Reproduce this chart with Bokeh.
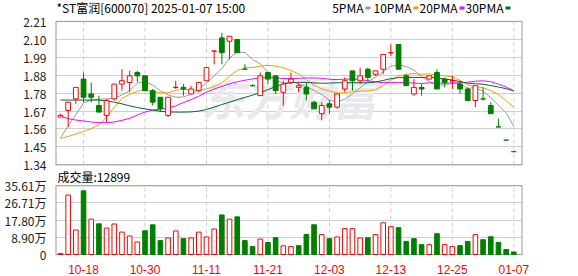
import numpy as np
from bokeh.plotting import figure
from bokeh.models import (Range1d, FixedTicker, CustomJSTickFormatter, ColumnDataSource)
from bokeh.core.properties import value
from bokeh.embed import file_html
from bokeh.resources import INLINE

# ---------------- data ----------------
title_text = "*ST富润[600070] 2025-01-07 15:00"
volume_title = "成交量:12899"
watermark = "东方财富"
ma_names = ["5PMA", "10PMA", "20PMA", "30PMA"]

dates = ["10-15", "10-16", "10-17", "10-18", "10-21", "10-22", "10-23", "10-24", "10-25", "10-28",
         "10-29", "10-30", "10-31", "11-01", "11-04", "11-05", "11-06", "11-07", "11-08", "11-11",
         "11-12", "11-13", "11-14", "11-15", "11-18", "11-19", "11-20", "11-21", "11-22", "11-25",
         "11-26", "11-27", "11-28", "11-29", "12-02", "12-03", "12-04", "12-05", "12-06", "12-09",
         "12-10", "12-11", "12-12", "12-13", "12-16", "12-17", "12-18", "12-19", "12-20", "12-23",
         "12-24", "12-25", "12-26", "12-27", "12-30", "12-31", "01-02", "01-03", "01-06", "01-07"]
date_tick_labels = ["10-18", "10-30", "11-11", "11-21", "12-03", "12-13", "12-25", "01-07"]

open_ = [1.63, 1.67, 1.74, 1.86, 1.77, 1.70, 1.64, 1.74, 1.83, 1.84,
         1.90, 1.88, 1.79, 1.75, 1.64, 1.81, 1.81, 1.77, 1.79, 1.85,
         2.03, 2.11, 2.09, 2.10, 1.92, 1.82, 1.76, 1.90, 1.88, 1.78,
         1.84, 1.81, 1.81, 1.72, 1.65, 1.71, 1.69, 1.80, 1.91, 1.85,
         1.92, 1.89, 1.92, 2.02, 2.07, 1.88, 1.77, 1.81, 1.86, 1.90,
         1.86, 1.85, 1.83, 1.80, 1.73, 1.74, 1.70, 1.57, 1.49, 1.42]
high = [1.65, 1.72, 1.81, 1.90, 1.84, 1.76, 1.74, 1.83, 1.92, 1.91,
        1.91, 1.88, 1.80, 1.75, 1.75, 1.85, 1.83, 1.82, 1.84, 1.93,
        2.03, 2.14, 2.12, 2.10, 1.95, 1.83, 1.90, 1.90, 1.88, 1.85,
        1.90, 1.84, 1.84, 1.73, 1.72, 1.73, 1.77, 1.87, 1.91, 1.93,
        1.93, 1.91, 2.01, 2.07, 2.07, 1.89, 1.86, 1.83, 1.88, 1.92,
        1.87, 1.88, 1.85, 1.81, 1.82, 1.81, 1.72, 1.62, 1.49, 1.42]
low = [1.63, 1.57, 1.71, 1.72, 1.72, 1.66, 1.60, 1.73, 1.79, 1.78,
       1.84, 1.79, 1.70, 1.66, 1.63, 1.80, 1.76, 1.77, 1.78, 1.85,
       1.95, 1.95, 1.98, 2.02, 1.92, 1.82, 1.76, 1.83, 1.77, 1.70,
       1.83, 1.78, 1.73, 1.68, 1.61, 1.65, 1.68, 1.78, 1.79, 1.83,
       1.85, 1.88, 1.89, 2.00, 1.92, 1.82, 1.76, 1.76, 1.86, 1.80,
       1.81, 1.80, 1.77, 1.73, 1.69, 1.73, 1.65, 1.57, 1.49, 1.42]
close = [1.64, 1.72, 1.81, 1.75, 1.75, 1.66, 1.73, 1.83, 1.85, 1.88,
         1.88, 1.79, 1.72, 1.68, 1.75, 1.81, 1.80, 1.80, 1.84, 1.93,
         2.03, 2.02, 2.12, 2.02, 1.92, 1.82, 1.88, 1.86, 1.79, 1.83,
         1.86, 1.82, 1.77, 1.68, 1.70, 1.69, 1.77, 1.85, 1.85, 1.88,
         1.87, 1.91, 2.01, 2.02, 1.92, 1.82, 1.81, 1.80, 1.88, 1.80,
         1.84, 1.85, 1.80, 1.73, 1.82, 1.74, 1.65, 1.57, 1.49, 1.42]

ma5 = [1.505, 1.575, 1.645, 1.715, 1.734, 1.738, 1.740, 1.744, 1.764, 1.790,
       1.834, 1.846, 1.824, 1.790, 1.764, 1.750, 1.752, 1.768, 1.800, 1.836,
       1.880, 1.924, 1.988, 2.024, 2.022, 1.980, 1.952, 1.900, 1.854, 1.836,
       1.844, 1.832, 1.814, 1.792, 1.766, 1.732, 1.722, 1.738, 1.772, 1.808,
       1.844, 1.872, 1.904, 1.938, 1.946, 1.936, 1.916, 1.874, 1.846, 1.822,
       1.826, 1.834, 1.834, 1.804, 1.808, 1.788, 1.748, 1.702, 1.654, 1.574]
ma10 = [1.500, 1.512, 1.527, 1.543, 1.560, 1.582, 1.630, 1.690, 1.742, 1.768,
        1.786, 1.793, 1.784, 1.777, 1.777, 1.792, 1.799, 1.796, 1.795, 1.800,
        1.815, 1.838, 1.878, 1.912, 1.929, 1.930, 1.938, 1.944, 1.939, 1.929,
        1.912, 1.892, 1.857, 1.823, 1.801, 1.788, 1.777, 1.776, 1.782, 1.787,
        1.788, 1.796, 1.820, 1.854, 1.877, 1.890, 1.894, 1.889, 1.892, 1.884,
        1.880, 1.874, 1.853, 1.824, 1.814, 1.808, 1.790, 1.767, 1.728, 1.690]
ma20 = [1.636, 1.620, 1.612, 1.606, 1.600, 1.596, 1.596, 1.600, 1.610, 1.622,
        1.642, 1.660, 1.672, 1.678, 1.684, 1.698, 1.718, 1.736, 1.756, 1.781,
        1.800, 1.816, 1.831, 1.844, 1.853, 1.861, 1.868, 1.870, 1.867, 1.864,
        1.863, 1.865, 1.867, 1.867, 1.865, 1.859, 1.857, 1.860, 1.860, 1.858,
        1.850, 1.844, 1.839, 1.839, 1.839, 1.839, 1.836, 1.833, 1.837, 1.836,
        1.835, 1.837, 1.838, 1.841, 1.847, 1.850, 1.844, 1.830, 1.812, 1.789]
ma30 = [1.733, 1.733, 1.733, 1.733, 1.733, 1.733, 1.727, 1.720, 1.710, 1.698,
        1.688, 1.679, 1.672, 1.665, 1.661, 1.660, 1.660, 1.661, 1.666, 1.676,
        1.690, 1.706, 1.720, 1.735, 1.749, 1.763, 1.778, 1.796, 1.815, 1.830,
        1.838, 1.841, 1.840, 1.837, 1.835, 1.836, 1.838, 1.838, 1.838, 1.838,
        1.838, 1.842, 1.852, 1.863, 1.869, 1.869, 1.870, 1.870, 1.872, 1.867,
        1.861, 1.855, 1.845, 1.835, 1.832, 1.829, 1.821, 1.812, 1.802, 1.788]

volume = [0.5, 30.8, 12.7, 32.97, 18.3, 15.9, 13.7, 15.8, 11.6, 9.6,
          6.5, 12.3, 15.4, 7.2, 8.6, 12.2, 8.2, 8.6, 11.6, 9.1,
          13.2, 20.5, 18.3, 19.5, 7.2, 4.1, 8.0, 6.2, 8.7, 4.5,
          4.1, 4.6, 10.4, 15.4, 10.3, 8.2, 9.1, 13.4, 13.4, 8.6,
          8.7, 10.3, 16.4, 14.4, 13.9, 6.8, 8.2, 5.1, 5.1, 10.8,
          5.1, 4.1, 4.6, 6.8, 10.3, 7.7, 9.2, 6.3, 2.6, 1.29]  # 万手

price_tick_labels = ["1.34", "1.45", "1.56", "1.67", "1.78", "1.88", "1.99", "2.10", "2.21"]
vol_tick_labels = ["0", "8.90万", "17.80万", "26.71万", "35.61万"]

# ---------------- styles / layout (canvas pixels) ----------------
W, H = 578, 276
RED = "#ff0000"
GREEN = "#008000"
MA_COLORS = ["#9a9a9a", "#f0a000", "#ff00ff", "#006a35"]
GRID = "#cfcfcf"
BORDER = "#999999"
LABEL_FONT = "Liberation Sans"
CJK_FONT = "Noto Sans CJK SC"
FRAME_L, FRAME_R = 55, 522
FRAME_BOTTOM = 256                    # the single frame spans y 0..256
P_TOP, P_BOTTOM = 21, 165             # price box
V_TOP, V_BOTTOM = 186, 255            # volume box
HEADER_Y = 7.5
VOL_TITLE_Y = 177
LEG_BOX_X = [365, 413, 459, 505]

n = len(dates)
x = np.arange(n)
prev_close = [open_[0]] + close[:-1]
up = [(c > o) or (c == o and c >= pc) for o, c, pc in zip(open_, close, prev_close)]
vol_up = [c >= pc for c, pc in zip(close, prev_close)]

src = ColumnDataSource(dict(
    x=x, o=open_, h=high, l=low, c=close,
    top=[max(a, b) for a, b in zip(open_, close)],
    bot=[min(a, b) for a, b in zip(open_, close)],
    col=[RED if u else GREEN for u in up],
    fill=["#ffffff" if u else GREEN for u in up],
    vol=volume,
    vcol=[RED if u else GREEN for u in vol_up],
    vfill=["#ffffff" if u else GREEN for u in vol_up],
))

x0, x1 = -0.65, n + 0.13
tick_pos = [dates.index(d) for d in date_tick_labels]

p_lo, p_hi = float(price_tick_labels[0]), float(price_tick_labels[-1])
p_per_px = (p_hi - p_lo) / (P_BOTTOM - P_TOP)
v_hi = float(vol_tick_labels[-1].rstrip("万"))
v_per_px = v_hi / (V_BOTTOM - V_TOP)


def py(px):            # canvas y -> price units
    return p_hi - (px - P_TOP) * p_per_px


def vy(px):            # canvas y -> volume units
    return (V_BOTTOM - px) * v_per_px


def xx(px):            # canvas x -> slot units
    return x0 + (px - FRAME_L) * (x1 - x0) / (FRAME_R - FRAME_L)


p = figure(width=W, height=H, x_range=Range1d(x0, x1), y_range=Range1d(py(FRAME_BOTTOM), py(0)),
           output_backend="svg", toolbar_location=None,
           min_border_left=FRAME_L, min_border_right=W - FRAME_R,
           min_border_top=0, min_border_bottom=H - FRAME_BOTTOM)
p.extra_y_ranges = {"vol": Range1d(vy(FRAME_BOTTOM), vy(0))}
p.outline_line_color = None
p.background_fill_color = "#ffffff"
p.border_fill_color = "#ffffff"
p.xgrid.grid_line_color = None

# one left axis carrying both the price and the volume labels
price_ticks = [float(t) for t in np.linspace(p_lo, p_hi, len(price_tick_labels))]
vol_ticks_as_price = [float(py(V_BOTTOM - v / v_per_px))
                      for v in np.linspace(0, v_hi, len(vol_tick_labels))]
all_ticks = price_ticks + vol_ticks_as_price
all_labels = price_tick_labels + vol_tick_labels
ya = p.yaxis[0]
ya.ticker = FixedTicker(ticks=all_ticks)
ya.formatter = CustomJSTickFormatter(
    args=dict(tvals=all_ticks, tlabels=all_labels),
    code="""let best = -1, d = 1e9;
for (let i = 0; i < tvals.length; i++) { const e = Math.abs(tvals[i] - tick); if (e < d) { d = e; best = i; } }
return best >= 0 ? tlabels[best] : '';""")
ya.axis_line_color = None
ya.major_tick_line_color = None
ya.minor_tick_line_color = None
ya.major_label_standoff = 3
ya.major_label_text_font = CJK_FONT
ya.major_label_text_font_size = "12px"
ya.major_label_text_color = "#222222"
p.ygrid.grid_line_color = GRID

xa = p.xaxis[0]
xa.ticker = FixedTicker(ticks=tick_pos)
xa.formatter = CustomJSTickFormatter(args=dict(dlabels=dates),
                                     code="return dlabels[Math.round(tick)] || '';")
xa.axis_line_color = None
xa.major_tick_line_color = None
xa.minor_tick_line_color = None
xa.major_label_standoff = 3
xa.major_label_text_font = LABEL_FONT
xa.major_label_text_font_size = "12px"
xa.major_label_text_color = RED

# dashed date lines inside both boxes
k = len(tick_pos)
p.segment(x0=tick_pos, y0=[p_lo] * k, x1=tick_pos, y1=[p_hi] * k,
          line_color=GRID, line_dash="4 3", line_width=1)
p.segment(x0=tick_pos, y0=[0] * k, x1=tick_pos, y1=[v_hi] * k, y_range_name="vol",
          line_color=GRID, line_dash="4 3", line_width=1)

# watermark
p.text(x=[(x0 + x1) / 2], y=[py(97)], text=[watermark],
       text_font=value(CJK_FONT), text_font_size="44px", text_font_style="bold italic",
       text_color="#e8e8ee", text_align="center", text_baseline="middle")

# box borders (left/right edges lie on the frame edge and are half clipped, so width 2)
for lo_, hi_, rng in [(p_lo, p_hi, "default"), (0, v_hi, "vol")]:
    p.segment(x0=[x0, x1], y0=[lo_, lo_], x1=[x0, x1], y1=[hi_, hi_], y_range_name=rng,
              line_color=BORDER, line_width=2)
    p.segment(x0=[x0, x0], y0=[lo_, hi_], x1=[x1, x1], y1=[lo_, hi_], y_range_name=rng,
              line_color=BORDER, line_width=1)

# MA lines
for ma, c in zip([ma5, ma10, ma20, ma30], MA_COLORS):
    p.line(x, ma, line_color=c, line_width=1)

# candles
p.segment(x0="x", y0="l", x1="x", y1="h", line_color="col", line_width=1, source=src)
p.vbar(x="x", width=0.62, top="top", bottom="bot", fill_color="fill", line_color="col",
       line_width=1, source=src)

# volume bars
p.vbar(x="x", width=0.6, top="vol", bottom=0, fill_color="vfill", line_color="vcol",
       line_width=1, source=src, y_range_name="vol")

# header: title and MA legend
p.text(x=[xx(FRAME_L + 1)], y=[py(HEADER_Y)], text=[title_text], text_font=value(CJK_FONT),
       text_font_size="12px", text_color="#000000", text_baseline="middle", text_align="left")
p.text(x=[xx(b - 2) for b in LEG_BOX_X], y=[py(HEADER_Y)] * 4, text=ma_names,
       text_font=value(CJK_FONT), text_font_size="12px", text_color="#000000",
       text_baseline="middle", text_align="right")
p.quad(left=[xx(b) for b in LEG_BOX_X], right=[xx(b + 5) for b in LEG_BOX_X],
       top=[py(HEADER_Y - 1.5)] * 4, bottom=[py(HEADER_Y + 1.5)] * 4,
       fill_color=MA_COLORS, line_color=None)

# volume caption
p.text(x=[xx(FRAME_L + 2)], y=[py(VOL_TITLE_Y)], text=[volume_title], text_font=value(CJK_FONT),
       text_font_size="12px", text_color="#000000", text_baseline="middle", text_align="left")

open("out.html", "w").write(file_html(p, INLINE))
